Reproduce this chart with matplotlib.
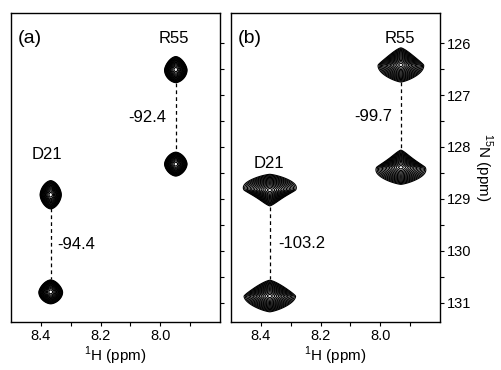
import numpy as np
import matplotlib
matplotlib.use("Agg")
import matplotlib.pyplot as plt

plt.rcParams['font.family'] = ['Liberation Sans', 'DejaVu Sans']
plt.rcParams['mathtext.fontset'] = 'custom'
plt.rcParams['mathtext.rm'] = 'Liberation Sans'

# peak centres (1H ppm, 15N ppm) and shapes, one row per panel
peaks_a_h = [7.948, 7.948, 8.367, 8.367]
peaks_a_n = [126.51, 128.33, 128.92, 130.79]
peaks_a_wh = [0.018, 0.018, 0.017, 0.019]
peaks_a_wn = [0.12, 0.11, 0.13, 0.11]
peaks_a_skew = [0.1, 0.0, 0.0, 0.1]

peaks_b_h = [7.931, 7.931, 8.37, 8.37]
peaks_b_n = [126.42, 128.39, 128.83, 130.87]
peaks_b_wh = [0.030, 0.032, 0.034, 0.034]
peaks_b_wn = [0.13, 0.13, 0.12, 0.12]
peaks_b_skew = [0.3, 0.5, -0.5, 0.2]

couplings_a = ["-92.4", "-94.4"]
couplings_b = ["-99.7", "-103.2"]
residues = ["R55", "D21"]

xg = np.linspace(8.5, 7.8, 700)
yg = np.linspace(125.4, 131.4, 700)
X, Y = np.meshgrid(xg, yg)


def spectrum(hs, ns, whs, wns, skews, p):
    z = np.zeros_like(X)
    for h, n, wh, wn, s in zip(hs, ns, whs, wns, skews):
        dy = (Y - n) / wn
        whe = wh * (1 + s * np.tanh(dy / 2))
        z += np.exp(-((np.abs(X - h) / whe) ** p + np.abs(dy) ** p))
    return z


levels = 0.03 * 1.25 ** np.arange(16)

fig = plt.figure(figsize=(5.02, 3.70), dpi=100)
ax_a = fig.add_axes([11 / 502, 48 / 370, 209 / 502, 309 / 370])
ax_b = fig.add_axes([231 / 502, 48 / 370, 209 / 502, 309 / 370])

panels = [
    (ax_a, peaks_a_h, peaks_a_n, peaks_a_wh, peaks_a_wn, peaks_a_skew, 1.7, 0.25),
    (ax_b, peaks_b_h, peaks_b_n, peaks_b_wh, peaks_b_wn, peaks_b_skew, 1.35, 0.32),
]
for ax, hs, ns, whs, wns, sk, p, gap in panels:
    z = spectrum(hs, ns, whs, wns, sk, p)
    ax.contour(X, Y, z, levels=levels, colors='black', linewidths=0.8)
    for i in (0, 2):
        ax.plot([hs[i], hs[i]], [ns[i] + gap, ns[i + 1] - gap], color='black',
                lw=0.9, linestyle=(0, (3, 2.5)))
    ax.set_xlim(8.5, 7.8)
    ax.set_ylim(131.37, 125.42)
    ax.set_xticks([8.4, 8.2, 8.0])
    ax.set_xticklabels(['8.4', '8.2', '8.0'])
    ax.set_xticks([8.3, 8.1, 7.9], minor=True)
    ax.set_yticks([126, 127, 128, 129, 130, 131])
    ax.set_yticks([126.5, 127.5, 128.5, 129.5, 130.5], minor=True)
    ax.yaxis.tick_right()
    ax.tick_params(which='both', direction='out', length=3, width=0.8,
                   labelsize=10.5, pad=2)
    ax.set_xlabel('$^{1}$H (ppm)', fontsize=11, labelpad=1)
    for sp in ax.spines.values():
        sp.set_linewidth(1.0)

ax_a.tick_params(axis='y', labelright=False)
ax_b.set_ylabel('$^{15}$N (ppm)', fontsize=11, rotation=270)
ax_b.yaxis.set_label_position('right')
ax_b.yaxis.set_label_coords(1.258, 0.5)

ax_a.text(0.034, 0.919, '(a)', transform=ax_a.transAxes, fontsize=14,
          ha='left', va='center')
ax_a.text(7.955, 125.92, residues[0], fontsize=12, ha='center', va='center')
ax_a.text(8.378, 128.15, residues[1], fontsize=12, ha='center', va='center')
ax_a.text(8.045, 127.44, couplings_a[0], fontsize=12, ha='center', va='center')
ax_a.text(8.282, 129.87, couplings_a[1], fontsize=12, ha='center', va='center')

ax_b.text(0.034, 0.919, '(b)', transform=ax_b.transAxes, fontsize=14,
          ha='left', va='center')
ax_b.text(7.935, 125.92, residues[0], fontsize=12, ha='center', va='center')
ax_b.text(8.373, 128.31, residues[1], fontsize=12, ha='center', va='center')
ax_b.text(8.025, 127.42, couplings_b[0], fontsize=12, ha='center', va='center')
ax_b.text(8.263, 129.85, couplings_b[1], fontsize=12, ha='center', va='center')

fig.savefig('out.png', dpi=100)
